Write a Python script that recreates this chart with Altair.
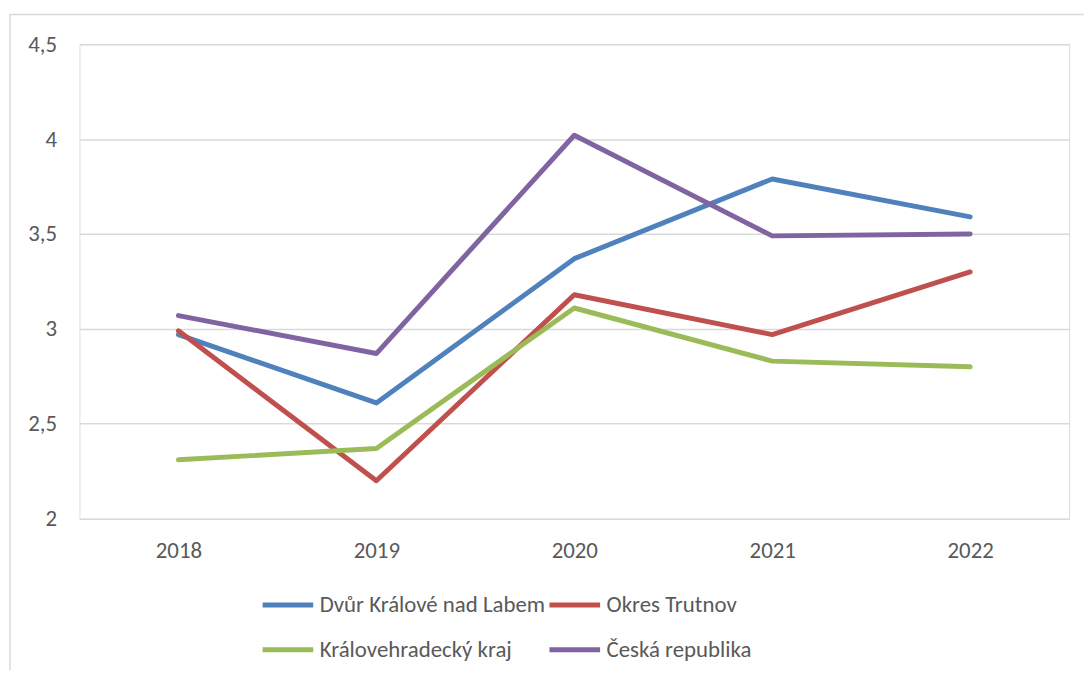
import altair as alt
import pandas as pd

years = ["2018", "2019", "2020", "2021", "2022"]
series_names = ["Dvůr Králové nad Labem", "Okres Trutnov", "Královehradecký kraj", "Česká republika"]
dvur = [2.97, 2.61, 3.37, 3.79, 3.59]
trutnov = [2.99, 2.20, 3.18, 2.97, 3.30]
kraj = [2.31, 2.37, 3.11, 2.83, 2.80]
cr = [3.07, 2.87, 4.02, 3.49, 3.50]
colors = ["#4F81BD", "#C0504D", "#9BBB59", "#8064A2"]
y_ticks = [2, 2.5, 3, 3.5, 4, 4.5]

rows = []
for name, vals in zip(series_names, [dvur, trutnov, kraj, cr]):
    for yr, v in zip(years, vals):
        rows.append({"rok": yr, "hodnota": v, "rada": name})
df = pd.DataFrame(rows)

FONT = "Calibri, Carlito, Lato, sans-serif"
TXT = "#595959"
W, H = 997, 478

border = alt.Chart(pd.DataFrame({"a": [0]})).mark_rect(
    fill=None, stroke="#D9D9D9", strokeWidth=1.5
).encode(
    x=alt.value(-70), x2=alt.value(W + 200), y=alt.value(-30), y2=alt.value(H + 300)
)

lines = alt.Chart(df).mark_line(strokeWidth=5, strokeCap="round", strokeJoin="round").encode(
    x=alt.X("rok:O", sort=years, title=None,
            scale=alt.Scale(type="point", padding=0.5),
            axis=alt.Axis(labelAngle=0, domain=False, ticks=False, grid=False,
                          labelFont=FONT, labelFontSize=23, labelColor=TXT,
                          labelPadding=21)),
    y=alt.Y("hodnota:Q", title=None,
            scale=alt.Scale(domain=[2, 4.5], nice=False, zero=False),
            axis=alt.Axis(values=y_ticks, domain=False, ticks=False, grid=True,
                          gridColor="#D9D9D9", gridWidth=1.5,
                          labelFont=FONT, labelFontSize=23, labelColor=TXT,
                          labelPadding=23,
                          labelExpr="replace(toString(datum.value), '.', ',')")),
    color=alt.Color("rada:N", sort=series_names,
                    scale=alt.Scale(domain=series_names, range=colors),
                    legend=alt.Legend(title=None, orient="none", legendX=182, legendY=537,
                                      direction="horizontal",
                                      columns=2, symbolType="stroke", symbolSize=2601,
                                      symbolStrokeWidth=5, labelFont=FONT, labelFontSize=23,
                                      labelColor=TXT, labelLimit=400, labelOffset=4,
                                      columnPadding=-7, rowPadding=5)),
    order=alt.value(0),
)

chart = alt.layer(border, lines).properties(
    width=W, height=H,
    autosize=alt.AutoSizeParams(type="none"),
    padding={"left": 72, "top": 34, "right": 15, "bottom": 150},
).configure_view(stroke=None).configure(background="white")

chart.save("out.html", embed_options={"renderer": "svg", "actions": False})
